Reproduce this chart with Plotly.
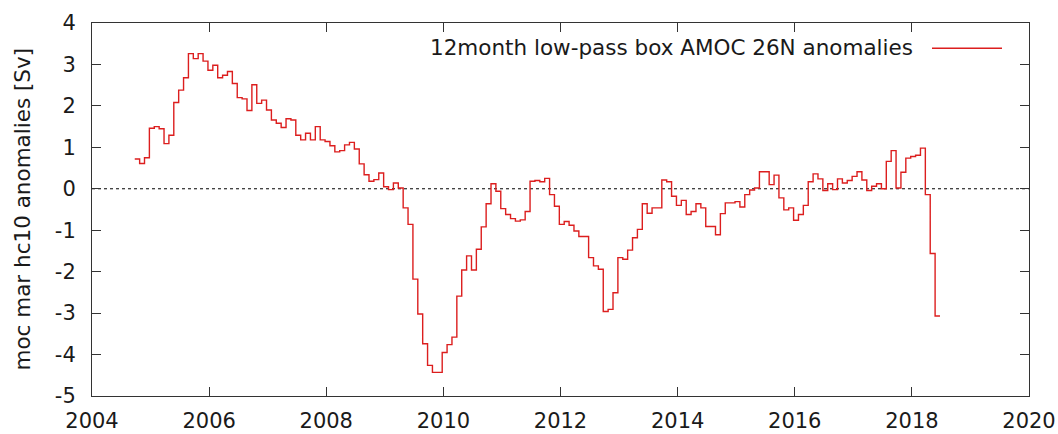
import plotly.graph_objects as go

# Monthly 12-month box-filtered AMOC anomalies at 26N [Sv]
start_year = 2004.73
months_per_year = 12
amoc_anomaly = [
    0.72, 0.61, 0.75, 1.46, 1.50, 1.45, 1.09, 1.29, 2.08, 2.38, 2.68, 3.26,
    3.14, 3.26, 3.08, 2.86, 2.98, 2.68, 2.74, 2.83, 2.54, 2.20, 2.17, 1.89,
    2.51, 2.06, 2.14, 1.90, 1.66, 1.58, 1.48, 1.69, 1.66, 1.29, 1.18, 1.34,
    1.18, 1.50, 1.18, 1.14, 1.04, 0.89, 0.92, 1.06, 1.12, 0.96, 0.60, 0.34,
    0.18, 0.22, 0.38, 0.05, -0.02, 0.14, 0.02, -0.46, -0.86, -2.18, -3.02, -3.74,
    -4.26, -4.43, -4.43, -3.95, -3.76, -3.58, -2.59, -1.96, -1.62, -1.96, -1.46, -0.92,
    -0.36, 0.12, -0.06, -0.48, -0.62, -0.72, -0.78, -0.75, -0.55, 0.18, 0.20, 0.17,
    0.25, -0.14, -0.42, -0.86, -0.79, -0.88, -1.02, -1.15, -1.15, -1.66, -1.86, -1.94,
    -2.96, -2.91, -2.51, -1.66, -1.70, -1.48, -1.18, -0.98, -0.36, -0.59, -0.46, -0.46,
    0.21, 0.17, -0.18, -0.40, -0.28, -0.62, -0.55, -0.36, -0.46, -0.91, -0.91, -1.11,
    -0.60, -0.34, -0.34, -0.31, -0.44, -0.14, -0.03, 0.02, 0.41, 0.41, 0.10, 0.33,
    -0.22, -0.51, -0.46, -0.76, -0.62, -0.40, 0.17, 0.36, 0.24, -0.04, 0.12, -0.02,
    0.24, 0.14, 0.20, 0.30, 0.41, 0.21, -0.04, 0.06, 0.12, 0.00, 0.66, 0.92,
    0.02, 0.40, 0.74, 0.78, 0.81, 0.98, -0.14, -1.56, -3.07,
]
x_ticks = [2004, 2006, 2008, 2010, 2012, 2014, 2016, 2018, 2020]
y_ticks = [-5, -4, -3, -2, -1, 0, 1, 2, 3, 4]
series_label = "12month low-pass box AMOC 26N anomalies"
y_title = "moc mar hc10 anomalies [Sv]"

# step edges: each value holds for one month; repeat last value to close final step
times = [start_year + i / months_per_year for i in range(len(amoc_anomaly) + 1)]
values = amoc_anomaly + [amoc_anomaly[-1]]

LINE_RED = "#dc1e1e"
FONT = "DejaVu Sans"
TEXT = "#1a1a1a"

# plot-area geometry in pixels
L, R, T, B = 92, 1029, 23, 396
W, H = R - L, B - T

fig = go.Figure()
fig.add_trace(go.Scatter(
    x=times, y=values, mode="lines", line=dict(color=LINE_RED, width=1.4, shape="hv"),
    showlegend=False, hoverinfo="skip",
))

# dotted zero reference line
fig.add_shape(type="line", xref="paper", yref="y", x0=0, x1=1, y0=0, y1=0,
              line=dict(color="black", width=1, dash="dot"), layer="below")

# key in the upper right: text followed by a line sample
fig.add_annotation(xref="paper", yref="paper", x=(915 - L) / W, y=(B - 47) / H,
                   text=series_label, showarrow=False, xanchor="right", yanchor="middle",
                   font=dict(family=FONT, size=21.5, color=TEXT))
fig.add_shape(type="line", xref="paper", yref="paper",
              x0=(932 - L) / W, x1=(1002 - L) / W,
              y0=(B - 48.3) / H, y1=(B - 48.3) / H,
              line=dict(color=LINE_RED, width=1.4))

# vertical axis title
fig.add_annotation(xref="paper", yref="paper", x=(22 - L) / W, y=0.5,
                   text=y_title, showarrow=False, textangle=-90,
                   xanchor="center", yanchor="middle",
                   font=dict(family=FONT, size=21.5, color=TEXT))

axis_common = dict(
    showgrid=False, zeroline=False, showline=True, linecolor="#333333", linewidth=1,
    mirror="allticks", ticks="inside", ticklen=9, tickcolor="#333333", tickwidth=1,
    tickfont=dict(family=FONT, size=21, color=TEXT), automargin=False,
)
fig.update_xaxes(range=[2004, 2020], tickvals=x_ticks, ticktext=[str(t) for t in x_ticks],
                 ticklabelstandoff=6, **axis_common)
fig.update_yaxes(range=[-5, 4], tickvals=y_ticks, ticktext=[str(t) for t in y_ticks],
                 ticklabelstandoff=11, **axis_common)

fig.update_layout(
    width=1058, height=434,
    margin=dict(l=L, r=1058 - R, t=T, b=434 - B, pad=0),
    paper_bgcolor="white", plot_bgcolor="white",
    font=dict(family=FONT, size=21, color=TEXT),
)

fig.write_html("out.html")
